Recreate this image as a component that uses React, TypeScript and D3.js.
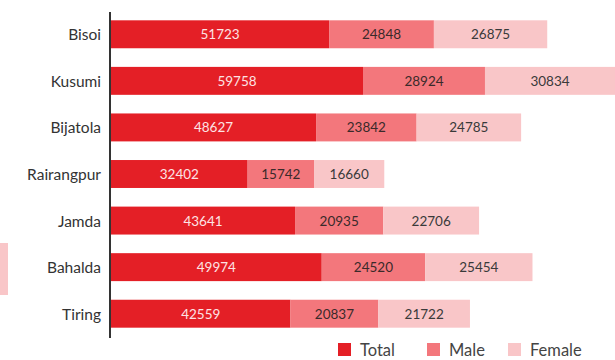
import React from "react";
import * as d3 from "d3";

const categories = ["Bisoi", "Kusumi", "Bijatola", "Rairangpur", "Jamda", "Bahalda", "Tiring"];
const totalValues = [51723, 59758, 48627, 32402, 43641, 49974, 42559];
const maleValues = [24848, 28924, 23842, 15742, 20935, 24520, 20837];
const femaleValues = [26875, 30834, 24785, 16660, 22706, 25454, 21722];
const seriesNames = ["Total", "Male", "Female"];

const colors = ["#e41f26", "#f3777c", "#f9c6c8"];
const textColors = ["#fde3e4", "#3a2a2a", "#3a3a3a"];

export default function App() {
  const W = 615, H = 360;
  const x0 = 111;
  const sums = categories.map((_, i) => totalValues[i] + maleValues[i] + femaleValues[i]);
  const x = d3.scaleLinear().domain([0, d3.max(sums) as number]).range([x0, 615]);
  const y = d3.scaleBand<string>().domain(categories).range([11, 337]).paddingInner(0.4).paddingOuter(0.2);
  const series = [totalValues, maleValues, femaleValues];
  const font = "Lato, 'Open Sans', sans-serif";

  return (
    <svg width={W} height={H} style={{ position: "absolute", left: 0, top: 0, background: "#fff" }} fontFamily={font}>
      <rect x={0} y={243} width={8} height={52} fill={colors[2]} />
      {categories.map((c, i) => {
        let acc = 0;
        const yy = y(c) as number;
        const bh = y.bandwidth();
        return (
          <g key={c}>
            <text x={101} y={yy + bh / 2} textAnchor="end" dominantBaseline="central" fontSize={15.5} fill="#333">{c}</text>
            {series.map((s, k) => {
              const start = acc;
              acc += s[i];
              const xa = x(start), xb = x(acc);
              return (
                <g key={k}>
                  <rect x={xa} y={yy} width={xb - xa} height={bh} fill={colors[k]} />
                  <text x={(xa + xb) / 2} y={yy + bh / 2} textAnchor="middle" dominantBaseline="central" fontSize={13.5} fill={textColors[k]}>{s[i]}</text>
                </g>
              );
            })}
          </g>
        );
      })}
      <line x1={x0 - 1} x2={x0 - 1} y1={12} y2={338} stroke="#333" strokeWidth={2} />
      {seriesNames.map((n, k) => {
        const lx = [338, 427, 508][k];
        return (
          <g key={n}>
            <rect x={lx} y={343} width={13} height={13} fill={colors[k]} />
            <text x={lx + 22} y={349.5} dominantBaseline="central" fontSize={16.5} fill="#444">{n}</text>
          </g>
        );
      })}
    </svg>
  );
}
